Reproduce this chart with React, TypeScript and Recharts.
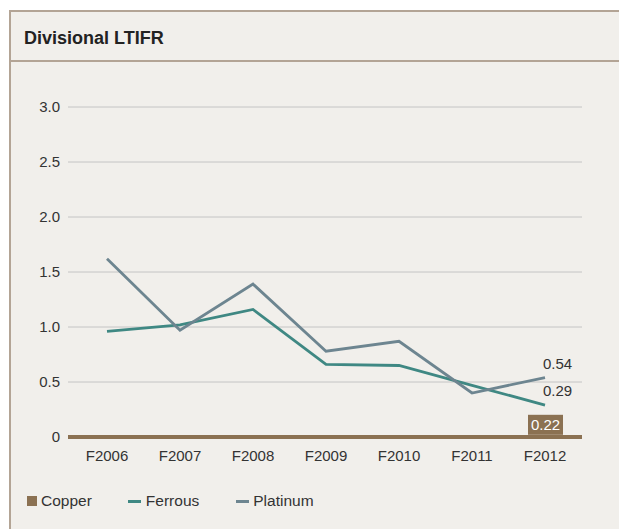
import React from "react";
import { LineChart, Line, XAxis, YAxis, CartesianGrid } from "recharts";

const categories = ["F2006", "F2007", "F2008", "F2009", "F2010", "F2011", "F2012"];
const ferrous = [0.96, 1.02, 1.16, 0.66, 0.65, 0.47, 0.29];
const platinum = [1.62, 0.97, 1.39, 0.78, 0.87, 0.4, 0.54];
const copper = [null, null, null, null, null, null, 0.22];
const yTicks = [0, 0.5, 1, 1.5, 2, 2.5, 3];

const data = categories.map((c, i) => ({
  name: c,
  ferrous: ferrous[i],
  platinum: platinum[i],
  copper: copper[i],
}));

const FONT = "'Liberation Sans', Arial, sans-serif";
const COPPER = "#8b7152";
const FERROUS = "#3f8883";
const PLATINUM = "#6d8590";

const EndLabel = (props: any) => {
  const { x, y, index, value } = props;
  if (index !== categories.length - 1) return null;
  return (
    <text x={x - 2} y={y - 9} fontSize={15} fill="#333" fontFamily={FONT}>
      {value}
    </text>
  );
};

const CopperLabel = (props: any) => {
  const { x, y, index, value } = props;
  if (index !== categories.length - 1 || value == null) return null;
  return (
    <g>
      <rect x={x - 17} y={y + 2} width={35} height={20} fill={COPPER} />
      <text x={x + 0.5} y={y + 17.5} fontSize={15} fill="#fff" textAnchor="middle" fontFamily={FONT}>
        {value}
      </text>
    </g>
  );
};

export default function App() {
  return (
    <div style={{ position: "fixed", left: 0, top: 0, width: 619, height: 529, background: "#f1efeb", overflow: "hidden", fontFamily: FONT }}>
      <div style={{ position: "absolute", left: 0, top: 0, width: 619, height: 10, background: "#fff" }} />
      <div style={{ position: "absolute", left: 0, top: 0, width: 9, height: 529, background: "#fff" }} />
      <div style={{ position: "absolute", left: 9, top: 10, width: 610, height: 2, background: "#b3a495" }} />
      <div style={{ position: "absolute", left: 9, top: 10, width: 2, height: 519, background: "#b3a495" }} />
      <div style={{ position: "absolute", left: 9, top: 60, width: 610, height: 2, background: "#b3a495" }} />
      <div style={{ position: "absolute", left: 24, top: 28, fontSize: 18, fontWeight: "bold", color: "#222" }}>Divisional LTIFR</div>
      <div style={{ position: "absolute", left: 0, top: 0 }}>
        <LineChart width={600} height={529} data={data} margin={{ top: 107, right: 18, left: 8, bottom: 62 }}>
          <CartesianGrid vertical={false} stroke="#c4c4c4" strokeWidth={1} />
          <XAxis
            dataKey="name"
            axisLine={{ stroke: COPPER, strokeWidth: 4 }}
            tickLine={false}
            padding={{ left: 39, right: 37 }}
            tick={{ fontSize: 15, fill: "#333", fontFamily: FONT }}
            tickMargin={7}
            height={30}
          />
          <YAxis
            domain={[0, 3]}
            ticks={yTicks}
            axisLine={false}
            tickLine={false}
            width={60}
            tickFormatter={(v: number) => (v === 0 ? "0" : v.toFixed(1))}
            tick={{ fontSize: 15, fill: "#333", fontFamily: FONT }}
          />
          <Line dataKey="copper" stroke="none" dot={false} isAnimationActive={false} label={<CopperLabel />} />
          <Line dataKey="ferrous" stroke={FERROUS} strokeWidth={2.8} dot={false} isAnimationActive={false} label={<EndLabel />} />
          <Line dataKey="platinum" stroke={PLATINUM} strokeWidth={2.8} dot={false} isAnimationActive={false} label={<EndLabel />} />
        </LineChart>
      </div>
      <div style={{ position: "absolute", top: 492, left: 27, display: "flex", alignItems: "center", fontSize: 15.5, color: "#333" }}>
        <span style={{ display: "inline-block", width: 10, height: 10, background: COPPER, marginRight: 4 }} />
        <span style={{ marginRight: 36 }}>Copper</span>
        <span style={{ display: "inline-block", width: 13, height: 3, background: FERROUS, marginRight: 5 }} />
        <span style={{ marginRight: 37 }}>Ferrous</span>
        <span style={{ display: "inline-block", width: 13, height: 3, background: PLATINUM, marginRight: 4 }} />
        <span>Platinum</span>
      </div>
    </div>
  );
}
